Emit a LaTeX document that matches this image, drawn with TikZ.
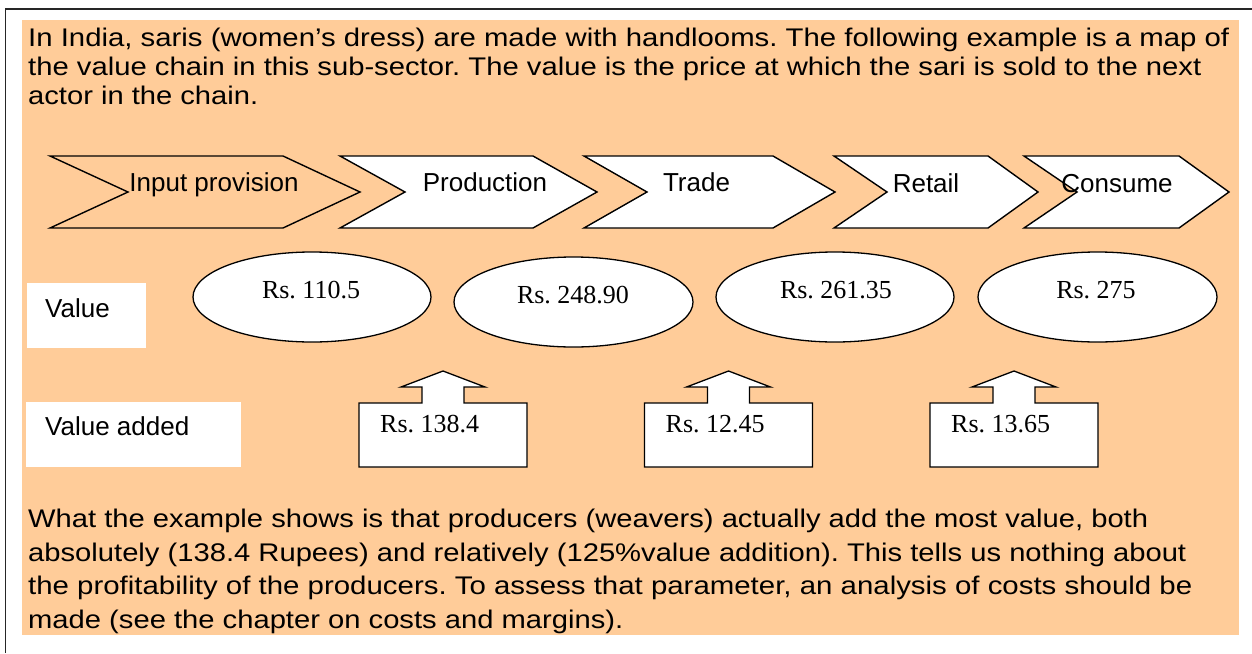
\documentclass[tikz,border=0pt]{standalone}
\usepackage{graphicx}
\usepackage{fontspec}
\setmainfont{Liberation Sans}
\newfontfamily\rsfont{Liberation Serif}
\usetikzlibrary{shapes.geometric}
\definecolor{peach}{HTML}{FFCC99}
\frenchspacing

% one paragraph line, set to a given width
\newcommand\fitline[2]{\resizebox{#1pt}{\height}{#2}}
% chevron: #1 name, #2 left x, #3 notch x, #4 shoulder x, #5 tip x, #6 fill
\newcommand\chevshape[6]{%
  \draw[chev, fill=#6] (#2,156) -- (#4,156) -- (#5,192) -- (#4,228) -- (#2,228) -- (#3,192) -- cycle;
  \coordinate (#1) at (#3,192);}
% box with an upward arrow on top: #1 name, #2 centre x, #3 text
\newcommand\upcallout[3]{%
  \draw[shape line, fill=white] (#2-84,467) -- (#2-84,403) -- (#2-21,403) -- (#2-21,387) -- (#2-42,387)
     -- (#2,371) -- (#2+42,387) -- (#2+21,387) -- (#2+21,403) -- (#2+84,403) -- (#2+84,467) -- cycle;
  \node[rs, anchor=base west] (#1) at (#2-63,432) {#3};}

\begin{document}
\begin{tikzpicture}[x=1pt, y=-1pt,
  body/.style={anchor=base west, inner sep=0pt, font=\fontsize{25.5}{30}\selectfont},
  lbl/.style={anchor=base, inner sep=0pt, font=\fontsize{26}{30}\selectfont},
  rs/.style={inner sep=0pt, font=\rsfont\fontsize{26}{30}\selectfont},
  chev/.style={draw=black, line width=1.4pt, line join=miter},
  shape line/.style={draw=black, line width=1.3pt},
  valell/.style={ellipse, draw=black, line width=1.3pt, fill=white, inner sep=0pt},
  tag/.style={fill=white, inner sep=0pt}]
\useasboundingbox (0,0) rectangle (1252,653);
\fill[white] (0,0) rectangle (1252,653);
\fill[peach] (22,20) rectangle (1239,635);
\draw[line width=1.8pt, black!85] (5.5,653) -- (5.5,9) -- (1252,9);

% introduction
\node[body] (intro1) at (28,46) {\fitline{1201}{In India, saris (women’s dress) are made with handlooms. The following example is a map of}};
\node[body] (intro2) at (28,75) {\fitline{1173}{the value chain in this sub-sector. The value is the price at which the sari is sold to the next}};
\node[body] (intro3) at (28,104) {\fitline{230}{actor in the chain.}};

% value chain stages
\chevshape{c1}{50}{128}{283}{360}{peach}
\chevshape{c2}{340}{405}{533}{597}{white}
\chevshape{c3}{584}{647}{773}{835}{white}
\chevshape{c4}{834}{887}{988}{1038}{white}
\chevshape{c5}{1024}{1077}{1179}{1229}{white}
\node[lbl] (l1) at (214,191) {Input provision};
\node[lbl] (l2) at (485,191) {Production};
\node[lbl] (l3) at (696.5,191) {Trade};
\node[lbl] (l4) at (926,192) {Retail};
\node[lbl] (l5) at (1117,192) {Consume};

% row labels
\fill[tag] (27,283) rectangle (146,348);
\node[lbl, anchor=base west] (vlab) at (45,317) {Value};
\fill[tag] (26,402) rectangle (241,467);
\node[lbl, anchor=base west] (valab) at (45,435) {Value added};

% values
\node[valell, minimum width=238pt, minimum height=90pt] (e1) at (312,297) {};
\node[valell, minimum width=239pt, minimum height=90pt] (e2) at (573.5,302) {};
\node[valell, minimum width=238pt, minimum height=90pt] (e3) at (835,297) {};
\node[valell, minimum width=239pt, minimum height=90pt] (e4) at (1097.5,297) {};
\node[rs, anchor=base] (t1) at (311,298) {Rs. 110.5};
\node[rs, anchor=base] (t2) at (573,303) {Rs. 248.90};
\node[rs, anchor=base] (t3) at (836,298) {Rs. 261.35};
\node[rs, anchor=base] (t4) at (1096,298) {Rs. 275};

% value added
\upcallout{a1}{443}{Rs. 138.4}
\upcallout{a2}{728.5}{Rs. 12.45}
\upcallout{a3}{1014}{Rs. 13.65}

% conclusion
\node[body] (end1) at (28,527) {\fitline{1120}{What the example shows is that producers (weavers) actually add the most value, both}};
\node[body] (end2) at (28,561) {\fitline{1158}{absolutely (138.4 Rupees) and relatively (125\%value addition). This tells us nothing about}};
\node[body] (end3) at (28,594) {\fitline{1164}{the profitability of the producers. To assess that parameter, an analysis of costs should be}};
\node[body] (end4) at (28,628) {\fitline{595}{made (see the chapter on costs and margins).}};
\end{tikzpicture}
\end{document}
